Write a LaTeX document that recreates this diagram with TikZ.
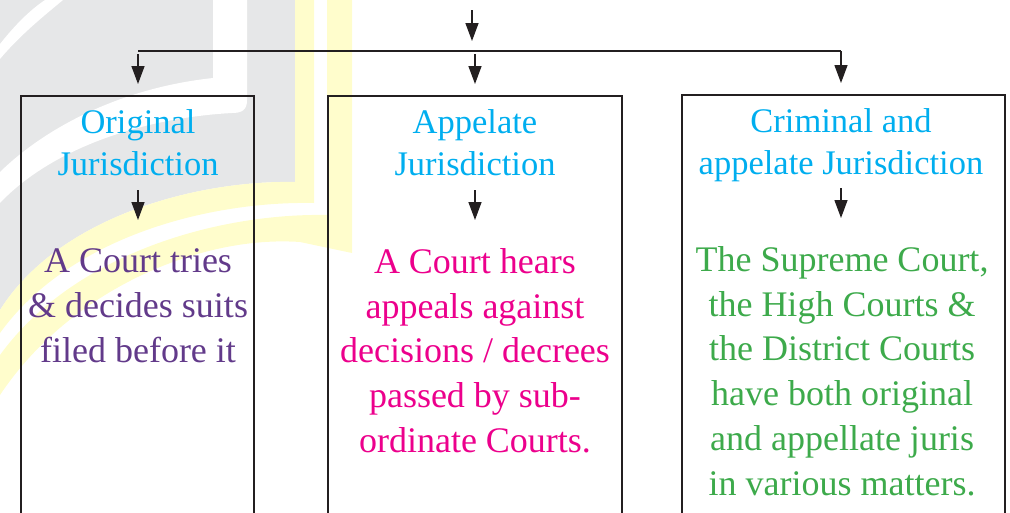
\documentclass[tikz,border=0pt]{standalone}
\usepackage{fontspec}
\setmainfont{Liberation Serif}
\usetikzlibrary{arrows.meta}

\definecolor{wmgray}{RGB}{230,231,232}
\definecolor{wmyellow}{RGB}{255,253,204}
\definecolor{inkline}{RGB}{35,31,32}
\definecolor{headcyan}{RGB}{0,174,239}
\definecolor{bodypurple}{RGB}{98,58,138}
\definecolor{bodypink}{RGB}{236,0,140}
\definecolor{bodygreen}{RGB}{61,170,75}

\tikzset{
  framebox/.style={draw=inkline, line width=1.1pt, minimum width=#1, minimum height=460pt,
    anchor=north west, inner sep=0pt, outer sep=0pt},
  arr/.style={draw=inkline, line width=1.4pt, arrows={-Triangle[length=18pt,width=13pt]}},
  bus/.style={draw=inkline, line width=1.4pt},
  heading/.style={anchor=north, align=center, inner sep=0pt, text=headcyan,
    font=\fontsize{34.5}{42}\selectfont},
  bodytext/.style={anchor=north, align=center, inner sep=0pt,
    font=\fontsize{36}{44.7}\selectfont},
}

\begin{document}
\begin{tikzpicture}[x=1pt, y=-1pt]
\useasboundingbox (0,0) rectangle (1010,512);

\begin{scope}
\clip (0,0) rectangle (1010,512);
% faint emblem in the background
\fill[wmgray] (0,0) -- (295,0) -- (295,182) .. controls (200,180) and (60,215) .. (0,310) -- cycle;
\fill[white] (0,44) .. controls (15,25) and (30,10) .. (45,0) -- (63,0) .. controls (45,15) and (20,35) .. (0,59) -- cycle;
\fill[white] (213,0) -- (247,0) -- (247,100) .. controls (247,110) and (242,113) .. (232,113)
  .. controls (140,118) and (50,150) .. (0,203) -- (0,172)
  .. controls (45,128) and (120,88) .. (213,78) -- cycle;
\fill[wmyellow] (295,0) -- (295,182) .. controls (200,180) and (60,215) .. (0,310)
  -- (0,333) .. controls (70,236) and (210,201) .. (314,203) -- (314,0) -- cycle;
\fill[wmyellow] (327,0) -- (327,215) .. controls (220,213) and (75,252) .. (0,355)
  -- (0,395) .. controls (70,290) and (200,235) .. (300,242) -- (352,253) -- (352,0) -- cycle;

% the three jurisdiction boxes
\node[framebox=233pt] (box1) at (21,96) {};
\node[framebox=294pt] (box2) at (328,96) {};
\node[framebox=323pt] (box3) at (682,95) {};
\end{scope}

% headings
\node[heading] (hd1) at (138,109) {Original\\Jurisdiction};
\node[heading] (hd2) at (475,109.4) {Appelate\\Jurisdiction};
\node[heading] (hd3) at (841,108.4) {Criminal and\\appelate Jurisdiction};

% descriptions
\node[bodytext, text=bodypurple] (bd1) at (138,248.6)
  {A Court tries\\\& decides suits\\filed before it};
\node[bodytext, text=bodypink] (bd2) at (475,248.4)
  {A Court hears\\appeals against\\decisions / decrees\\passed by sub-\\ordinate Courts.};
\node[bodytext, text=bodygreen] (bd3) at (842,246.4)
  {The Supreme Court,\\the High Courts \&\\the District Courts\\have both original\\and appellate juris\\in various matters.};

% connector points
\coordinate (src) at (472,10);
\coordinate (srcend) at (472,41);
\coordinate (busL) at (138,51);
\coordinate (busR) at (841,51);
\coordinate (in1top) at (138,54);
\coordinate (in1) at (138,84);
\coordinate (in2top) at (475,54);
\coordinate (in2) at (475,84);
\coordinate (in3) at (841,83);
\coordinate (d1a) at (138,190);
\coordinate (d1b) at (138,220);
\coordinate (d2a) at (475,190);
\coordinate (d2b) at (475,220);
\coordinate (d3a) at (841,188);
\coordinate (d3b) at (841,218);

% connectors
\draw[arr] (src) -- (srcend);
\draw[bus] (busL) -- (busR);
\draw[arr] (busR) -- (in3);
\draw[arr] (in1top) -- (in1);
\draw[arr] (in2top) -- (in2);
\draw[arr] (d1a) -- (d1b);
\draw[arr] (d2a) -- (d2b);
\draw[arr] (d3a) -- (d3b);
\end{tikzpicture}
\end{document}
